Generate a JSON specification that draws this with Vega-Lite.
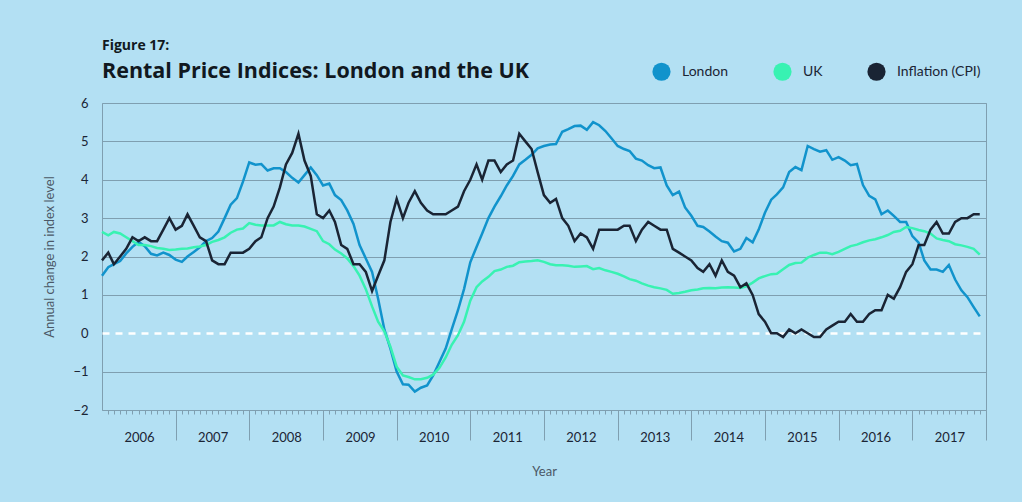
{
  "$schema": "https://vega.github.io/schema/vega-lite/v6.json",
  "width": 884,
  "height": 307,
  "autosize": {"type": "none"},
  "padding": {"left": 102, "top": 103, "right": 36, "bottom": 92},
  "background": "#b3e0f3",
  "config": {"font": "Lato", "view": {"stroke": "#7f9fb0", "strokeWidth": 1}},
  "title": {
    "text": "Figure 17:",
    "subtitle": "Rental Price Indices: London and the UK",
    "anchor": "start",
    "frame": "group",
    "font": "Open Sans",
    "fontSize": 14,
    "fontWeight": "bold",
    "color": "#111820",
    "subtitleFont": "Open Sans",
    "subtitleFontSize": 21.5,
    "subtitleFontWeight": "bold",
    "subtitleColor": "#111820",
    "subtitlePadding": 8,
    "offset": -20
  },
  "data": {"values": [
    {"date":"2006-01-01","London":1.5,"UK":2.64,"Inflation (CPI)":1.9},
    {"date":"2006-02-01","London":1.72,"UK":2.55,"Inflation (CPI)":2.1},
    {"date":"2006-03-01","London":1.8,"UK":2.64,"Inflation (CPI)":1.8},
    {"date":"2006-04-01","London":1.88,"UK":2.6,"Inflation (CPI)":2.0},
    {"date":"2006-05-01","London":2.08,"UK":2.5,"Inflation (CPI)":2.2},
    {"date":"2006-06-01","London":2.25,"UK":2.4,"Inflation (CPI)":2.5},
    {"date":"2006-07-01","London":2.38,"UK":2.3,"Inflation (CPI)":2.4},
    {"date":"2006-08-01","London":2.27,"UK":2.3,"Inflation (CPI)":2.5},
    {"date":"2006-09-01","London":2.07,"UK":2.27,"Inflation (CPI)":2.4},
    {"date":"2006-10-01","London":2.03,"UK":2.22,"Inflation (CPI)":2.4},
    {"date":"2006-11-01","London":2.1,"UK":2.2,"Inflation (CPI)":2.7},
    {"date":"2006-12-01","London":2.04,"UK":2.17,"Inflation (CPI)":3.0},
    {"date":"2007-01-01","London":1.92,"UK":2.18,"Inflation (CPI)":2.7},
    {"date":"2007-02-01","London":1.86,"UK":2.2,"Inflation (CPI)":2.8},
    {"date":"2007-03-01","London":2.0,"UK":2.21,"Inflation (CPI)":3.1},
    {"date":"2007-04-01","London":2.12,"UK":2.24,"Inflation (CPI)":2.8},
    {"date":"2007-05-01","London":2.24,"UK":2.26,"Inflation (CPI)":2.5},
    {"date":"2007-06-01","London":2.4,"UK":2.3,"Inflation (CPI)":2.4},
    {"date":"2007-07-01","London":2.48,"UK":2.38,"Inflation (CPI)":1.9},
    {"date":"2007-08-01","London":2.65,"UK":2.43,"Inflation (CPI)":1.8},
    {"date":"2007-09-01","London":3.0,"UK":2.5,"Inflation (CPI)":1.8},
    {"date":"2007-10-01","London":3.35,"UK":2.62,"Inflation (CPI)":2.1},
    {"date":"2007-11-01","London":3.52,"UK":2.7,"Inflation (CPI)":2.1},
    {"date":"2007-12-01","London":3.95,"UK":2.73,"Inflation (CPI)":2.1},
    {"date":"2008-01-01","London":4.45,"UK":2.87,"Inflation (CPI)":2.2},
    {"date":"2008-02-01","London":4.39,"UK":2.83,"Inflation (CPI)":2.4},
    {"date":"2008-03-01","London":4.41,"UK":2.81,"Inflation (CPI)":2.5},
    {"date":"2008-04-01","London":4.24,"UK":2.81,"Inflation (CPI)":3.0},
    {"date":"2008-05-01","London":4.3,"UK":2.81,"Inflation (CPI)":3.3},
    {"date":"2008-06-01","London":4.3,"UK":2.9,"Inflation (CPI)":3.8},
    {"date":"2008-07-01","London":4.2,"UK":2.84,"Inflation (CPI)":4.4},
    {"date":"2008-08-01","London":4.05,"UK":2.81,"Inflation (CPI)":4.7},
    {"date":"2008-09-01","London":3.93,"UK":2.81,"Inflation (CPI)":5.2},
    {"date":"2008-10-01","London":4.12,"UK":2.78,"Inflation (CPI)":4.5},
    {"date":"2008-11-01","London":4.32,"UK":2.72,"Inflation (CPI)":4.1},
    {"date":"2008-12-01","London":4.12,"UK":2.66,"Inflation (CPI)":3.1},
    {"date":"2009-01-01","London":3.85,"UK":2.4,"Inflation (CPI)":3.0},
    {"date":"2009-02-01","London":3.9,"UK":2.32,"Inflation (CPI)":3.2},
    {"date":"2009-03-01","London":3.6,"UK":2.18,"Inflation (CPI)":2.9},
    {"date":"2009-04-01","London":3.47,"UK":2.08,"Inflation (CPI)":2.3},
    {"date":"2009-05-01","London":3.2,"UK":1.95,"Inflation (CPI)":2.2},
    {"date":"2009-06-01","London":2.85,"UK":1.75,"Inflation (CPI)":1.8},
    {"date":"2009-07-01","London":2.3,"UK":1.5,"Inflation (CPI)":1.8},
    {"date":"2009-08-01","London":1.95,"UK":1.15,"Inflation (CPI)":1.6},
    {"date":"2009-09-01","London":1.6,"UK":0.7,"Inflation (CPI)":1.1},
    {"date":"2009-10-01","London":0.9,"UK":0.3,"Inflation (CPI)":1.5},
    {"date":"2009-11-01","London":0.1,"UK":0.05,"Inflation (CPI)":1.9},
    {"date":"2009-12-01","London":-0.4,"UK":-0.35,"Inflation (CPI)":2.9},
    {"date":"2010-01-01","London":-1.0,"UK":-0.87,"Inflation (CPI)":3.5},
    {"date":"2010-02-01","London":-1.33,"UK":-1.1,"Inflation (CPI)":3.0},
    {"date":"2010-03-01","London":-1.34,"UK":-1.14,"Inflation (CPI)":3.4},
    {"date":"2010-04-01","London":-1.52,"UK":-1.2,"Inflation (CPI)":3.7},
    {"date":"2010-05-01","London":-1.42,"UK":-1.2,"Inflation (CPI)":3.4},
    {"date":"2010-06-01","London":-1.36,"UK":-1.16,"Inflation (CPI)":3.2},
    {"date":"2010-07-01","London":-1.1,"UK":-1.08,"Inflation (CPI)":3.1},
    {"date":"2010-08-01","London":-0.75,"UK":-0.9,"Inflation (CPI)":3.1},
    {"date":"2010-09-01","London":-0.4,"UK":-0.63,"Inflation (CPI)":3.1},
    {"date":"2010-10-01","London":0.1,"UK":-0.3,"Inflation (CPI)":3.2},
    {"date":"2010-11-01","London":0.6,"UK":-0.05,"Inflation (CPI)":3.3},
    {"date":"2010-12-01","London":1.15,"UK":0.3,"Inflation (CPI)":3.7},
    {"date":"2011-01-01","London":1.85,"UK":0.85,"Inflation (CPI)":4.0},
    {"date":"2011-02-01","London":2.25,"UK":1.2,"Inflation (CPI)":4.4},
    {"date":"2011-03-01","London":2.6,"UK":1.35,"Inflation (CPI)":4.0},
    {"date":"2011-04-01","London":3.0,"UK":1.47,"Inflation (CPI)":4.5},
    {"date":"2011-05-01","London":3.3,"UK":1.62,"Inflation (CPI)":4.5},
    {"date":"2011-06-01","London":3.57,"UK":1.66,"Inflation (CPI)":4.2},
    {"date":"2011-07-01","London":3.85,"UK":1.73,"Inflation (CPI)":4.4},
    {"date":"2011-08-01","London":4.1,"UK":1.76,"Inflation (CPI)":4.5},
    {"date":"2011-09-01","London":4.4,"UK":1.85,"Inflation (CPI)":5.2},
    {"date":"2011-10-01","London":4.52,"UK":1.87,"Inflation (CPI)":5.0},
    {"date":"2011-11-01","London":4.65,"UK":1.88,"Inflation (CPI)":4.8},
    {"date":"2011-12-01","London":4.82,"UK":1.9,"Inflation (CPI)":4.2},
    {"date":"2012-01-01","London":4.88,"UK":1.86,"Inflation (CPI)":3.6},
    {"date":"2012-02-01","London":4.92,"UK":1.8,"Inflation (CPI)":3.4},
    {"date":"2012-03-01","London":4.93,"UK":1.77,"Inflation (CPI)":3.5},
    {"date":"2012-04-01","London":5.25,"UK":1.77,"Inflation (CPI)":3.0},
    {"date":"2012-05-01","London":5.32,"UK":1.76,"Inflation (CPI)":2.8},
    {"date":"2012-06-01","London":5.4,"UK":1.73,"Inflation (CPI)":2.4},
    {"date":"2012-07-01","London":5.41,"UK":1.74,"Inflation (CPI)":2.6},
    {"date":"2012-08-01","London":5.3,"UK":1.75,"Inflation (CPI)":2.5},
    {"date":"2012-09-01","London":5.5,"UK":1.67,"Inflation (CPI)":2.2},
    {"date":"2012-10-01","London":5.42,"UK":1.7,"Inflation (CPI)":2.7},
    {"date":"2012-11-01","London":5.27,"UK":1.64,"Inflation (CPI)":2.7},
    {"date":"2012-12-01","London":5.08,"UK":1.6,"Inflation (CPI)":2.7},
    {"date":"2013-01-01","London":4.88,"UK":1.55,"Inflation (CPI)":2.7},
    {"date":"2013-02-01","London":4.8,"UK":1.48,"Inflation (CPI)":2.8},
    {"date":"2013-03-01","London":4.75,"UK":1.41,"Inflation (CPI)":2.8},
    {"date":"2013-04-01","London":4.55,"UK":1.37,"Inflation (CPI)":2.4},
    {"date":"2013-05-01","London":4.5,"UK":1.3,"Inflation (CPI)":2.7},
    {"date":"2013-06-01","London":4.38,"UK":1.24,"Inflation (CPI)":2.9},
    {"date":"2013-07-01","London":4.3,"UK":1.2,"Inflation (CPI)":2.8},
    {"date":"2013-08-01","London":4.32,"UK":1.17,"Inflation (CPI)":2.7},
    {"date":"2013-09-01","London":3.85,"UK":1.13,"Inflation (CPI)":2.7},
    {"date":"2013-10-01","London":3.6,"UK":1.03,"Inflation (CPI)":2.2},
    {"date":"2013-11-01","London":3.69,"UK":1.05,"Inflation (CPI)":2.1},
    {"date":"2013-12-01","London":3.28,"UK":1.08,"Inflation (CPI)":2.0},
    {"date":"2014-01-01","London":3.06,"UK":1.12,"Inflation (CPI)":1.9},
    {"date":"2014-02-01","London":2.8,"UK":1.14,"Inflation (CPI)":1.7},
    {"date":"2014-03-01","London":2.77,"UK":1.17,"Inflation (CPI)":1.6},
    {"date":"2014-04-01","London":2.65,"UK":1.18,"Inflation (CPI)":1.8},
    {"date":"2014-05-01","London":2.52,"UK":1.17,"Inflation (CPI)":1.5},
    {"date":"2014-06-01","London":2.4,"UK":1.19,"Inflation (CPI)":1.9},
    {"date":"2014-07-01","London":2.36,"UK":1.2,"Inflation (CPI)":1.6},
    {"date":"2014-08-01","London":2.13,"UK":1.19,"Inflation (CPI)":1.5},
    {"date":"2014-09-01","London":2.2,"UK":1.18,"Inflation (CPI)":1.2},
    {"date":"2014-10-01","London":2.48,"UK":1.22,"Inflation (CPI)":1.3},
    {"date":"2014-11-01","London":2.37,"UK":1.32,"Inflation (CPI)":1.0},
    {"date":"2014-12-01","London":2.7,"UK":1.43,"Inflation (CPI)":0.5},
    {"date":"2015-01-01","London":3.14,"UK":1.49,"Inflation (CPI)":0.3},
    {"date":"2015-02-01","London":3.48,"UK":1.54,"Inflation (CPI)":0.0},
    {"date":"2015-03-01","London":3.62,"UK":1.55,"Inflation (CPI)":0.0},
    {"date":"2015-04-01","London":3.8,"UK":1.67,"Inflation (CPI)":-0.1},
    {"date":"2015-05-01","London":4.2,"UK":1.78,"Inflation (CPI)":0.1},
    {"date":"2015-06-01","London":4.33,"UK":1.83,"Inflation (CPI)":0.0},
    {"date":"2015-07-01","London":4.25,"UK":1.84,"Inflation (CPI)":0.1},
    {"date":"2015-08-01","London":4.88,"UK":1.97,"Inflation (CPI)":0.0},
    {"date":"2015-09-01","London":4.8,"UK":2.04,"Inflation (CPI)":-0.1},
    {"date":"2015-10-01","London":4.73,"UK":2.1,"Inflation (CPI)":-0.1},
    {"date":"2015-11-01","London":4.77,"UK":2.1,"Inflation (CPI)":0.1},
    {"date":"2015-12-01","London":4.52,"UK":2.06,"Inflation (CPI)":0.2},
    {"date":"2016-01-01","London":4.59,"UK":2.12,"Inflation (CPI)":0.3},
    {"date":"2016-02-01","London":4.5,"UK":2.2,"Inflation (CPI)":0.3},
    {"date":"2016-03-01","London":4.38,"UK":2.27,"Inflation (CPI)":0.5},
    {"date":"2016-04-01","London":4.41,"UK":2.31,"Inflation (CPI)":0.3},
    {"date":"2016-05-01","London":3.86,"UK":2.37,"Inflation (CPI)":0.3},
    {"date":"2016-06-01","London":3.58,"UK":2.42,"Inflation (CPI)":0.5},
    {"date":"2016-07-01","London":3.49,"UK":2.45,"Inflation (CPI)":0.6},
    {"date":"2016-08-01","London":3.1,"UK":2.5,"Inflation (CPI)":0.6},
    {"date":"2016-09-01","London":3.2,"UK":2.56,"Inflation (CPI)":1.0},
    {"date":"2016-10-01","London":3.06,"UK":2.64,"Inflation (CPI)":0.9},
    {"date":"2016-11-01","London":2.9,"UK":2.67,"Inflation (CPI)":1.2},
    {"date":"2016-12-01","London":2.9,"UK":2.77,"Inflation (CPI)":1.6},
    {"date":"2017-01-01","London":2.53,"UK":2.74,"Inflation (CPI)":1.8},
    {"date":"2017-02-01","London":2.36,"UK":2.69,"Inflation (CPI)":2.3},
    {"date":"2017-03-01","London":1.9,"UK":2.66,"Inflation (CPI)":2.3},
    {"date":"2017-04-01","London":1.66,"UK":2.6,"Inflation (CPI)":2.7},
    {"date":"2017-05-01","London":1.66,"UK":2.47,"Inflation (CPI)":2.9},
    {"date":"2017-06-01","London":1.6,"UK":2.43,"Inflation (CPI)":2.6},
    {"date":"2017-07-01","London":1.78,"UK":2.4,"Inflation (CPI)":2.6},
    {"date":"2017-08-01","London":1.4,"UK":2.32,"Inflation (CPI)":2.9},
    {"date":"2017-09-01","London":1.12,"UK":2.29,"Inflation (CPI)":3.0},
    {"date":"2017-10-01","London":0.94,"UK":2.25,"Inflation (CPI)":3.0},
    {"date":"2017-11-01","London":0.68,"UK":2.2,"Inflation (CPI)":3.1},
    {"date":"2017-12-01","London":0.44,"UK":2.05,"Inflation (CPI)":3.1}
  ]},
  "transform": [{"fold": ["London", "UK", "Inflation (CPI)"], "as": ["series", "value"]}],
  "mark": {"type": "line", "strokeWidth": 2.5},
  "encoding": {
    "x": {
      "field": "date",
      "type": "temporal",
      "title": "Year",
      "scale": {"type": "utc", "domain": [{"year": 2006, "month": 1, "date": 1, "utc": true}, {"year": 2018, "month": 1, "date": 1, "utc": true}]},
      "axis": {
        "tickCount": {"interval": "month", "step": 1},
        "format": "%Y",
        "formatType": "utc",
        "labelExpr": "utcmonth(datum.value) === 0 && utcyear(datum.value) < 2018 ? datum.label : ''",
        "labelOffset": 37,
        "labelPadding": -9,
        "labelOverlap": false,
        "labelFlush": false,
        "labelBound": false,
        "tickSize": {"condition": {"test": "utcmonth(datum.value) === 0", "value": 30}, "value": 4},
        "tickColor": {"condition": {"test": "utcmonth(datum.value) === 0 && utcyear(datum.value) === 2006", "value": "transparent"}, "value": "#7f9fb0"},
        "domain": false,
        "grid": false,
        "labelFontSize": 13,
        "labelColor": "#1b2535",
        "titleFontSize": 13,
        "titleFontWeight": "normal",
        "titleColor": "#4b5866",
        "titlePadding": 21
      }
    },
    "y": {
      "field": "value",
      "type": "quantitative",
      "title": "Annual change in index level",
      "scale": {"domain": [-2, 6], "nice": false},
      "axis": {
        "values": [-2, -1, 0, 1, 2, 3, 4, 5, 6],
        "grid": true,
        "gridColor": {"condition": {"test": "datum.value === 0", "value": "#ffffff"}, "value": "#7f9fb0"},
        "gridDash": {"condition": {"test": "datum.value === 0", "value": [7, 6]}, "value": []},
        "gridWidth": {"condition": {"test": "datum.value === 0", "value": 2.5}, "value": 1},
        "ticks": false,
        "domain": false,
        "labelPadding": 14,
        "labelFontSize": 13,
        "labelColor": "#1b2535",
        "titleFontSize": 13,
        "titleFontWeight": "normal",
        "titleColor": "#4b5866",
        "titlePadding": 16
      }
    },
    "color": {
      "field": "series",
      "type": "nominal",
      "scale": {"domain": ["London", "UK", "Inflation (CPI)"], "range": ["#1193cc", "#38f2b2", "#1a2434"]},
      "legend": {
        "orient": "none",
        "legendX": 550,
        "legendY": -41,
        "direction": "horizontal",
        "title": null,
        "symbolType": "circle",
        "symbolSize": 330,
        "symbolStrokeWidth": 0,
        "labelFontSize": 14,
        "labelColor": "#1b2535",
        "labelOffset": 11,
        "columnPadding": 44,
        "encode": {"symbols": {"update": {"fill": {"scale": "color", "field": "value"}, "fillOpacity": {"value": 1}}}}
      }
    }
  }
}
